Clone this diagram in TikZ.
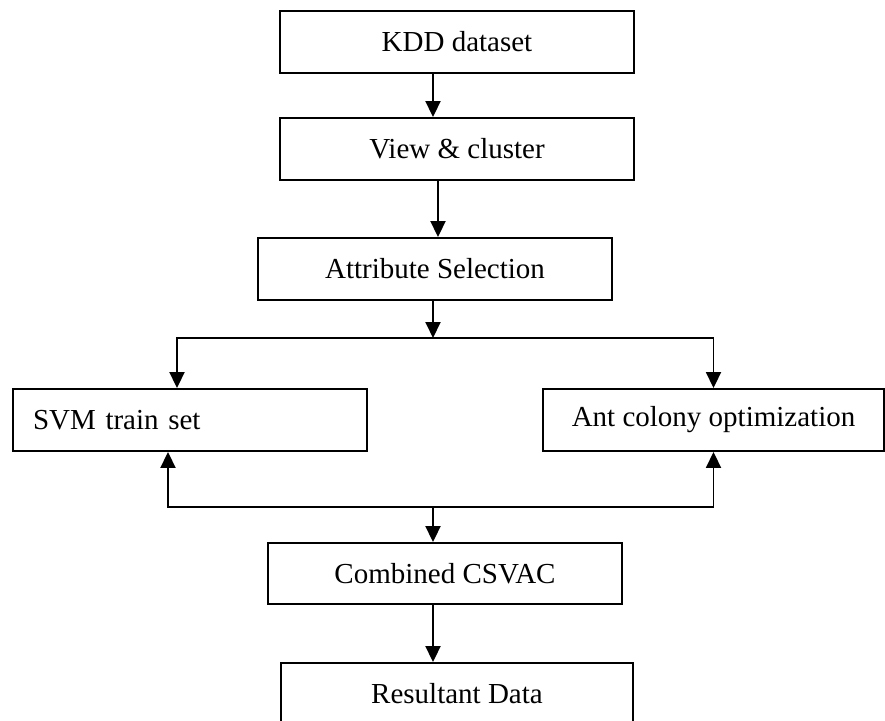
\documentclass[tikz,border=0pt]{standalone}
\usepackage{fontspec}
\setmainfont{Liberation Serif}
\usepackage{tikz}
\usetikzlibrary{arrows.meta,positioning,calc}

\begin{document}
\begin{tikzpicture}[
  x=1pt, y=-1pt,
  font=\fontsize{29}{34}\selectfont,
  box/.style={draw, line width=1.9pt, inner sep=0pt, minimum width=354pt, minimum height=62pt},
  ar/.style={-{Triangle[length=16pt, width=15pt]}, line width=1.9pt},
  arr/.style={{Triangle[length=16pt, width=15pt]}-{Triangle[length=16pt, width=15pt]}, line width=1.9pt}
]
\useasboundingbox (0,0) rectangle (885,720);
% ---- nodes ------------------------------------------------------------------
\node[box] (kdd) at (457, 42) {KDD dataset};
\node[box] (view) at (457, 149) {View \& cluster};
\node[box] (attr) at (435, 269) {Attribute Selection};
\node[box, text width=314pt, inner xsep=20pt, align=left] (svm) at (190, 420) {SVM train set};
\node[box, minimum width=341pt] (aco) at (713.5, 420) {Ant colony optimization};
\node[box, minimum height=61pt] (comb) at (445, 573.5) {Combined CSVAC};
\node[box, minimum width=352pt] (result) at (457, 694) {Resultant Data};

% ---- edges ------------------------------------------------------------------
\coordinate (spine) at (433, 0);
\coordinate (splitL) at (177, 338);
\coordinate (joinL) at (168, 507);
\draw[ar] (kdd.south -| spine) -- (view.north -| spine);
\draw[ar] ($(view.south -| spine)+(5,0)$) -- ($(attr.north -| spine)+(5,0)$);
\draw[ar] (attr.south -| spine) -- (spine |- splitL);
\draw[arr] (svm.north -| splitL) |- (aco.north |- splitL) -- (aco.north);
\draw[arr] (svm.south -| joinL) |- (aco.south |- joinL) -- (aco.south);
\draw[ar] (spine |- joinL) -- (comb.north -| spine);
\draw[ar] (comb.south -| spine) -- (result.north -| spine);
\end{tikzpicture}
\end{document}
